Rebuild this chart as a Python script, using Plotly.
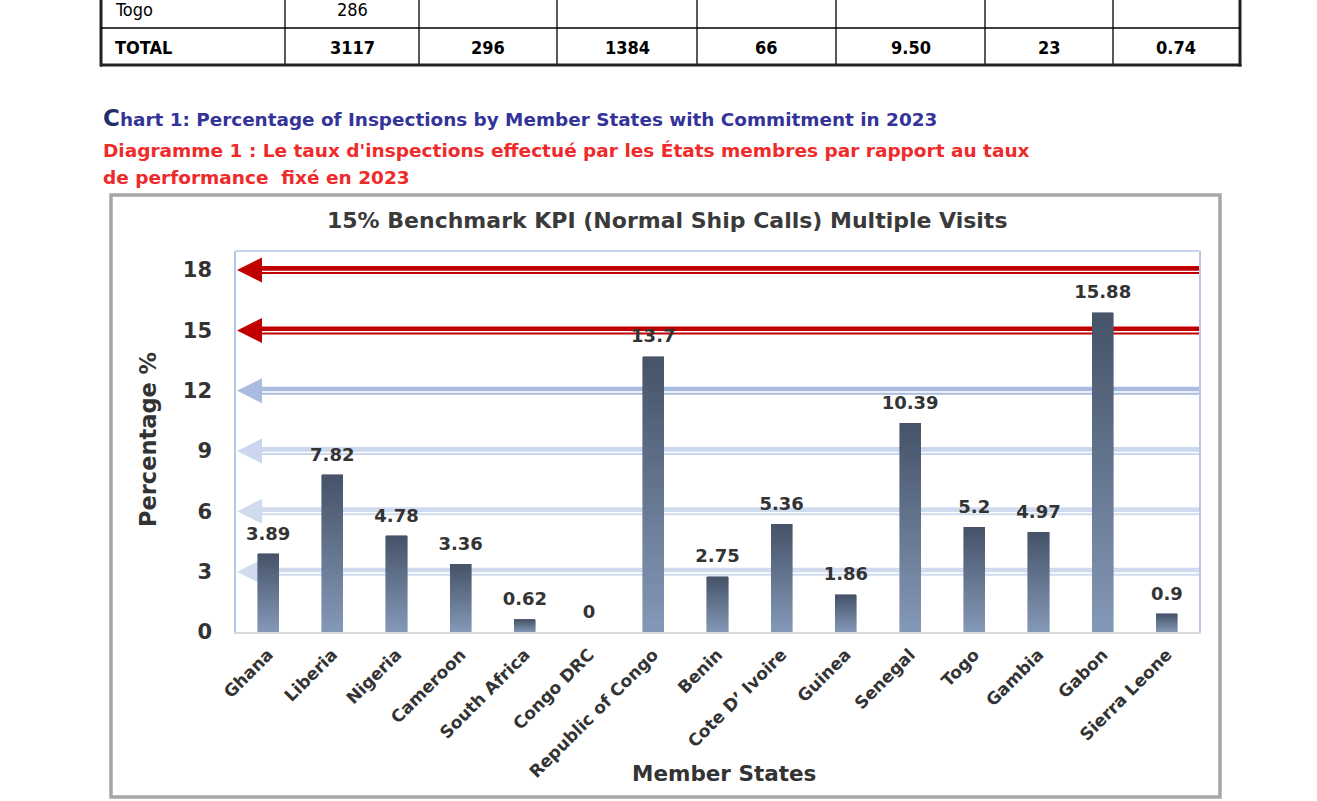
import plotly.graph_objects as go

# ---------------- data ----------------
countries = ["Ghana", "Liberia", "Nigeria", "Cameroon", "South Africa", "Congo DRC",
             "Republic of Congo", "Benin", "Cote D\u2019 Ivoire", "Guinea", "Senegal",
             "Togo", "Gambia", "Gabon", "Sierra Leone"]
percentages = [3.89, 7.82, 4.78, 3.36, 0.62, 0, 13.7, 2.75, 5.36, 1.86, 10.39,
               5.2, 4.97, 15.88, 0.9]
y_ticks = [0, 3, 6, 9, 12, 15, 18]
benchmark_levels = [3, 6, 9, 12, 15, 18]
benchmark_colors = ["#d0dbef", "#d0dbef", "#cbd7ee", "#a9bce0", "#c00000", "#c00000"]

table_prev_row = ["Togo", "286", "", "", "", "", "", ""]
table_total_row = ["TOTAL", "3117", "296", "1384", "66", "9.50", "23", "0.74"]

chart_title = "15% Benchmark KPI (Normal Ship Calls) Multiple Visits"
doc_title_en = "Chart 1: Percentage of Inspections by Member States with Commitment in 2023"
doc_title_fr1 = "Diagramme 1 : Le taux d'inspections effectué par les États membres par rapport au taux"
doc_title_fr2 = "de performance  fixé en 2023"
x_title = "Member States"
y_title = "Percentage %"

# ---------------- layout geometry (screen pixels) ----------------
W, H = 1317, 801
OFF = 0  # page body margin removed via post_script
SL, SR, ST, SB = 236, 1199, 251, 632  # plot area on screen


def fx(x):
    return (x - SL) / (SR - SL)


def fy(y):
    return (SB - y) / (SB - ST)


TXT = "#333333"
BOLD = "DejaVu Sans"

fig = go.Figure()

# gradient bars: stacked slices of each bar, light at bottom, dark at top
N = 40
c_bot = (0x84, 0x99, 0xb8)
c_top = (0x46, 0x53, 0x68)
for k in range(N):
    t = (k + 0.5) / N
    col = "rgb(%d,%d,%d)" % tuple(round(c_bot[i] + (c_top[i] - c_bot[i]) * t) for i in range(3))
    fig.add_trace(go.Bar(
        x=countries, y=[v / N for v in percentages],
        marker=dict(color=col, line=dict(color=col, width=0.6)),
        showlegend=False, hoverinfo="skip",
    ))

# data labels
fig.add_trace(go.Scatter(
    x=countries, y=percentages, mode="markers+text",
    text=[f"{v:g}" for v in percentages], textposition="top center",
    textfont=dict(family=BOLD, size=18, color=TXT, weight="bold"),
    marker=dict(size=14, opacity=0), showlegend=False, hoverinfo="skip",
))

shapes = []
# benchmark double lines with arrowheads
for lvl, col in zip(benchmark_levels, benchmark_colors):
    shapes.append(dict(type="rect", xref="paper", yref="y", xsizemode="pixel", ysizemode="pixel",
                       xanchor=0, yanchor=lvl, x0=24, x1=SR - SL, y0=-4, y1=4,
                       fillcolor=col, line=dict(width=0), layer="below"))
    shapes.append(dict(type="rect", xref="paper", yref="y", xsizemode="pixel", ysizemode="pixel",
                       xanchor=0, yanchor=lvl, x0=26, x1=SR - SL, y0=-2, y1=-0.6,
                       fillcolor="white", line=dict(width=0), layer="below"))
    shapes.append(dict(type="path", xref="paper", yref="y", xsizemode="pixel", ysizemode="pixel",
                       xanchor=0, yanchor=lvl, path="M 1,0 L 26,12.5 L 26,-12.5 Z",
                       fillcolor=col, line=dict(width=0), layer="below"))

# plot area top border
shapes.append(dict(type="line", xref="paper", yref="paper", x0=0, x1=1, y0=1, y1=1,
                   line=dict(color="#b4c7e7", width=1.5)))

# outer chart box
shapes.append(dict(type="rect", xref="paper", yref="paper", x0=fx(111), x1=fx(1220),
                   y0=fy(797), y1=fy(195), line=dict(color="#a6a6a6", width=3.5)))

# table lines
col_lines = [285, 419, 557, 697, 836, 985, 1113]
for cx in col_lines:
    shapes.append(dict(type="line", xref="paper", yref="paper", x0=fx(cx), x1=fx(cx),
                       y0=fy(-10), y1=fy(65), line=dict(color="#000000", width=1.3)))
for cx in [101, 1240]:
    shapes.append(dict(type="line", xref="paper", yref="paper", x0=fx(cx), x1=fx(cx),
                       y0=fy(-10), y1=fy(66.5), line=dict(color="#222222", width=3)))
shapes.append(dict(type="line", xref="paper", yref="paper", x0=fx(101), x1=fx(1240),
                   y0=fy(28), y1=fy(28), line=dict(color="#000000", width=1.3)))
shapes.append(dict(type="line", xref="paper", yref="paper", x0=fx(100), x1=fx(1241.5),
                   y0=fy(65), y1=fy(65), line=dict(color="#222222", width=3)))

annotations = []
# table text
col_centers = [None, 352, 488, 627, 766, 911, 1049, 1176]
TBL = "Liberation Sans Narrow, DejaVu Sans Condensed, sans-serif"
for i, (a, b) in enumerate(zip(table_prev_row, table_total_row)):
    xa = fx(113) if i == 0 else fx(col_centers[i])
    anc = "left" if i == 0 else "center"
    if a:
        annotations.append(dict(x=xa, y=fy(10), xref="paper", yref="paper", text=a,
                                xanchor=anc, yanchor="middle", showarrow=False,
                                font=dict(family=TBL, size=18, color="#000000")))
    annotations.append(dict(x=xa, y=fy(47), xref="paper", yref="paper", text=b,
                            xanchor=anc, yanchor="middle", showarrow=False,
                            font=dict(family=TBL, size=18, color="#000000", weight="bold")))

# document titles
annotations.append(dict(x=fx(101), y=fy(118), xref="paper", yref="paper",
                        text='<span style="font-size:23px;color:#1f2f6b">' + doc_title_en[0] + "</span>" + doc_title_en[1:],
                        xanchor="left", yanchor="middle", showarrow=False,
                        font=dict(family=BOLD, size=18.4, color="#333399", weight="bold")))
annotations.append(dict(x=fx(101), y=fy(150), xref="paper", yref="paper", text=doc_title_fr1,
                        xanchor="left", yanchor="middle", showarrow=False,
                        font=dict(family=BOLD, size=18.5, color="#ee2a2a", weight="bold")))
annotations.append(dict(x=fx(101), y=fy(177), xref="paper", yref="paper", text=doc_title_fr2,
                        xanchor="left", yanchor="middle", showarrow=False,
                        font=dict(family=BOLD, size=18.5, color="#ee2a2a", weight="bold")))

# chart title and axis titles
annotations.append(dict(x=fx(667), y=fy(221), xref="paper", yref="paper", text=chart_title,
                        xanchor="center", yanchor="middle", showarrow=False,
                        font=dict(family=BOLD, size=22, color="#3a3a3a", weight="bold")))
annotations.append(dict(x=fx(724), y=fy(773), xref="paper", yref="paper", text=x_title,
                        xanchor="center", yanchor="middle", showarrow=False,
                        font=dict(family=BOLD, size=21.5, color=TXT, weight="bold")))
annotations.append(dict(x=fx(148), y=fy(440), xref="paper", yref="paper", text=y_title,
                        textangle=-90, xanchor="center", yanchor="middle", showarrow=False,
                        font=dict(family=BOLD, size=22.5, color=TXT, weight="bold")))

fig.update_layout(
    width=W, height=H,
    margin=dict(l=SL - OFF, r=W - (SR - OFF), t=ST - OFF, b=H - (SB - OFF)),
    paper_bgcolor="white", plot_bgcolor="white",
    barmode="stack", bargap=0.672,
    showlegend=False,
    shapes=shapes, annotations=annotations,
    xaxis=dict(
        categoryorder="array", categoryarray=countries,
        range=[-0.5, len(countries) - 0.5],
        tickangle=-45, ticks="", showgrid=False, zeroline=False,
        showline=True, linecolor="#d9d9d9", linewidth=2,
        tickfont=dict(family=BOLD, size=17, color=TXT, weight="bold"),
        ticklabelstandoff=4,
    ),
    yaxis=dict(
        range=[0, 18.95], tickvals=y_ticks, ticktext=[str(v) for v in y_ticks],
        ticks="", showgrid=False, zeroline=False,
        showline=True, mirror=True, linecolor="#b4c7e7", linewidth=1.5,
        tickfont=dict(family=BOLD, size=21, color=TXT, weight="bold"),
        ticklabelstandoff=18,
    ),
)

fig.write_html("out.html", config={"displayModeBar": False},
               post_script="document.body.style.margin='0';")
